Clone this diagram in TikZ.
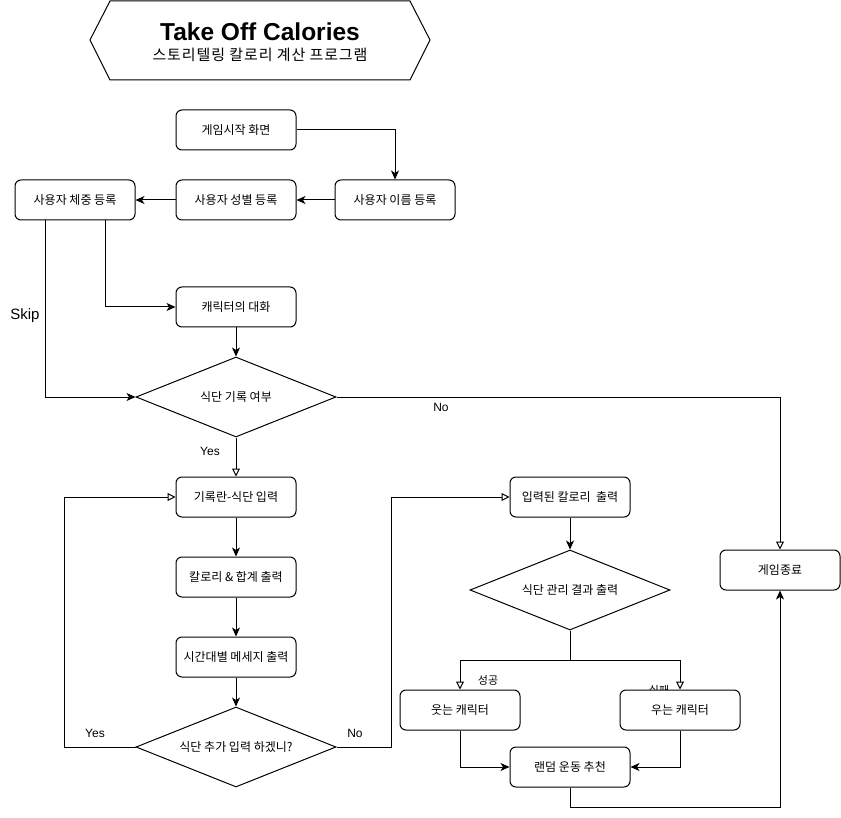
\documentclass[tikz,border=0pt]{standalone}
\usepackage{fontspec}
\setmainfont{Liberation Sans}
\newfontfamily\kr{Noto Sans CJK KR}
\newfontfamily\krwide[LetterSpace=6]{Noto Sans CJK KR}
\usetikzlibrary{arrows.meta,shapes.geometric}
\tikzset{
  box/.style={draw, line width=1pt, rounded corners=6pt, fill=white, minimum width=120pt, minimum height=40pt, inner sep=1pt, font=\kr\fontsize{12}{14}\selectfont},
  dia/.style={draw, line width=1pt, diamond, fill=white, minimum width=200pt, minimum height=80pt, inner sep=0pt, aspect=2.5, font=\kr\fontsize{12}{14}\selectfont},
  fa/.style={draw, line width=1pt, -{Stealth[length=9pt,width=8pt,inset=2.5pt]}},
  oa/.style={draw, line width=1pt, -{Triangle[open,length=8pt,width=8pt]}},
  lbl/.style={font=\fontsize{12}{14}\selectfont, inner sep=0pt},
  klbl/.style={font=\kr\fontsize{11}{13}\selectfont, inner sep=0pt}
}
\begin{document}
\begin{tikzpicture}[x=1pt,y=-1pt]
\useasboundingbox (0,0) rectangle (841,818);
% title
\draw[line width=1pt] (110,1) -- (410,1) -- (430,40) -- (410,80) -- (110,80) -- (90,40) -- cycle;
\node[inner sep=0pt, font=\fontsize{24.5}{26}\selectfont\bfseries] (title) at (260,32) {Take Off Calories};
\node[inner sep=0pt, font=\krwide\fontsize{15}{17}\selectfont] (subtitle) at (260,55) {스토리텔링 칼로리 계산 프로그램};
% nodes
\node[box] (start) at (236,130) {게임시작 화면};
\node[box] (name) at (395,200) {사용자 이름 등록};
\node[box] (gender) at (236,200) {사용자 성별 등록};
\node[box] (weight) at (75,200) {사용자 체중 등록};
\node[box] (chat) at (236,307) {캐릭터의 대화};
\node[dia] (q1) at (236,397) {식단 기록 여부};
\node[box] (rec) at (236,497) {기록란-식단 입력};
\node[box] (cal) at (236,577) {칼로리 \& 합계 출력};
\node[box] (msg) at (236,657) {시간대별 메세지 출력};
\node[dia] (q2) at (236,747) {식단 추가 입력 하겠니?};
\node[box] (out) at (570,497) {입력된 칼로리 \ 출력};
\node[dia] (q3) at (570,590) {식단 관리 결과 출력};
\node[klbl] (ok) at (488,680) {성공};
\node[klbl] (fail) at (659,690) {실패};
\node[box] (smile) at (460,710) {웃는 캐릭터};
\node[box] (cry) at (680,710) {우는 캐릭터};
\node[box] (rand) at (570,767) {랜덤 운동 추천};
\node[box] (end) at (780,570) {게임종료};
% connectors
\draw[fa] (start.east) -| (name.north);
\draw[fa] (name.west) -- (gender.east);
\draw[fa] (gender.west) -- (weight.east);
\draw[fa] ([xshift=30pt]weight.south) |- (chat.west);
\draw[fa] ([xshift=-30pt]weight.south) |- (q1.west);
\draw[fa] (chat.south) -- (q1.north);
\draw[oa] (q1.south) -- (rec.north);
\draw[oa] (q1.east) -| (end.north);
\draw[fa] (rec.south) -- (cal.north);
\draw[fa] (cal.south) -- (msg.north);
\draw[fa] (msg.south) -- (q2.north);
\draw[oa] (q2.west) -- ++(-71,0) |- (rec.west);
\draw[oa] (q2.east) -- ++(55,0) |- (out.west);
\draw[fa] (out.south) -- (q3.north);
\draw[oa] (q3.south) -- ++(0,30) -| (smile.north);
\draw[oa] (q3.south) -- ++(0,30) -| (cry.north);
\draw[fa] (smile.south) |- (rand.west);
\draw[fa] (cry.south) |- (rand.east);
\draw[fa] (rand.south) -- ++(0,20) -| (end.south);
% labels
\node[lbl, font=\fontsize{15}{17}\selectfont] (skip) at (25,316) {Skip};
\node[lbl] (yes1) at (210,451) {Yes};
\node[lbl] (no1) at (441,407) {No};
\node[lbl] (yes2) at (95,733) {Yes};
\node[lbl] (no2) at (355,733) {No};
\end{tikzpicture}
\end{document}
